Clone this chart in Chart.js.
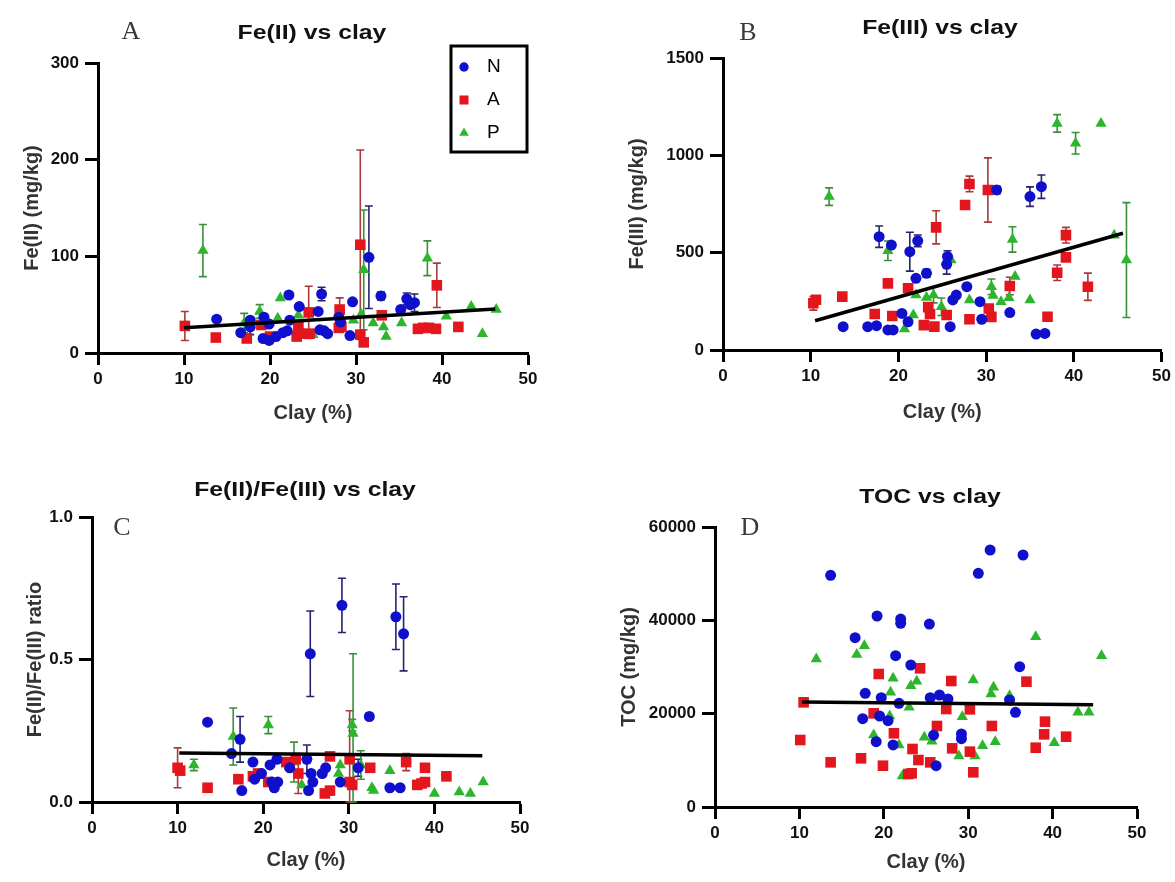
<!DOCTYPE html>
<html>
<head>
<meta charset="utf-8">
<script src="https://cdn.jsdelivr.net/npm/chart.js@4.4.1/dist/chart.umd.min.js"></script>
<style>
  body { margin: 0; background: #fff; }
  .panel { position: absolute; }
</style>
</head>
<body>
<div class="panel" style="left:0;top:0;width:587px;height:440px"><canvas id="chartA"></canvas></div>
<div class="panel" style="left:587px;top:0;width:588px;height:440px"><canvas id="chartB"></canvas></div>
<div class="panel" style="left:0;top:440px;width:587px;height:442px"><canvas id="chartC"></canvas></div>
<div class="panel" style="left:587px;top:440px;width:588px;height:442px"><canvas id="chartD"></canvas></div>
<script>
// rows are [clay %, value, error]
const clayTicks = [0, 10, 20, 30, 40, 50];

const fe2N = [[13.8, 35, 0], [16.6, 21, 0], [17.7, 27, 8], [17.7, 34, 0], [19.3, 37, 0], [19.2, 15, 0],
  [19.9, 13, 0], [20.7, 17, 0], [21.5, 21, 0], [22.0, 23, 0], [19.9, 30, 0], [22.2, 60, 0], [22.3, 34, 0],
  [23.4, 48, 0], [25.6, 43, 0], [26.0, 61, 7], [25.8, 24, 0], [26.3, 23, 0], [26.7, 20, 0], [28.0, 37, 0],
  [28.2, 32, 0], [29.6, 53, 0], [29.3, 18, 0], [31.5, 99, 53], [32.9, 59, 4], [35.2, 45, 0], [35.9, 56, 6],
  [36.3, 50, 0], [36.8, 52, 9]];
const fe2A = [[10.1, 28, 15], [13.7, 16, 0], [17.3, 15, 0], [19.0, 29, 0], [20.0, 17, 0], [23.1, 17, 0],
  [23.3, 27, 0], [23.5, 20, 0], [24.5, 42, 27], [24.6, 20, 0], [28.1, 45, 12], [28.0, 26, 0], [28.3, 27, 0],
  [30.5, 112, 98], [30.5, 19, 0], [30.9, 11, 0], [33.0, 39, 0], [37.2, 25, 3], [37.8, 26, 0], [38.5, 26, 0],
  [39.3, 25, 0], [39.4, 70, 23], [41.9, 27, 0]];
const fe2P = [[12.2, 106, 27], [17.0, 31, 10], [18.8, 43, 7], [20.9, 36, 0], [21.2, 57, 0], [23.3, 39, 0],
  [25.0, 19, 0], [29.7, 34, 0], [30.9, 86, 62], [30.6, 40, 0], [32.0, 31, 0], [33.2, 27, 0], [33.5, 17, 0],
  [35.3, 31, 0], [38.3, 98, 18], [40.5, 38, 0], [43.4, 48, 0], [44.7, 20, 0], [46.3, 45, 0]];
const fe2Fit = [[10, 26], [46.2, 45.5]];
const fe2Ticks = [0, 100, 200, 300];

const fe3N = [[13.7, 120, 0], [16.5, 120, 0], [17.5, 125, 0], [17.8, 582, 55], [18.8, 103, 0], [19.4, 103, 0],
  [19.2, 539, 0], [20.4, 188, 0], [21.1, 145, 0], [21.3, 505, 100], [22.2, 561, 30], [22.0, 368, 0],
  [23.2, 394, 20], [25.6, 480, 30], [25.5, 440, 50], [25.9, 120, 0], [26.2, 257, 0], [26.6, 282, 0],
  [27.8, 325, 0], [29.3, 248, 0], [29.5, 158, 0], [31.2, 822, 20], [32.7, 192, 0], [35.0, 788, 50],
  [36.3, 839, 60], [35.7, 82, 0], [36.7, 85, 0]];
const fe3A = [[10.3, 240, 35], [10.6, 258, 0], [13.6, 274, 0], [17.3, 185, 0], [18.8, 342, 0], [19.3, 175, 0],
  [21.1, 317, 0], [22.9, 128, 0], [23.4, 220, 0], [23.6, 185, 0], [24.1, 120, 0], [24.3, 630, 85],
  [25.5, 180, 0], [27.6, 745, 0], [28.1, 853, 40], [28.1, 158, 0], [30.2, 822, 165], [30.3, 213, 0],
  [30.6, 170, 0], [32.7, 329, 45], [37.0, 171, 0], [38.1, 397, 40], [39.1, 590, 40], [39.1, 476, 0],
  [41.6, 325, 70]];
const fe3P = [[12.1, 788, 45], [18.8, 510, 50], [20.7, 108, 0], [21.7, 180, 0], [22.0, 282, 0], [23.2, 270, 0],
  [24.0, 282, 40], [24.9, 222, 45], [26.0, 462, 0], [28.1, 257, 0], [30.6, 325, 40], [30.8, 280, 0],
  [31.7, 248, 0], [32.6, 268, 0], [33.0, 568, 65], [33.3, 377, 0], [35.0, 257, 0], [38.1, 1164, 45],
  [40.2, 1062, 55], [43.1, 1164, 0], [44.6, 590, 0], [46.0, 462, 295]];
const fe3Fit = [[10.5, 150], [45.6, 600]];
const fe3Ticks = [0, 500, 1000, 1500];

const ratioN = [[13.5, 0.28, 0], [16.3, 0.17, 0], [17.3, 0.22, 0.08], [17.5, 0.04, 0], [18.8, 0.14, 0],
  [19.0, 0.08, 0], [19.8, 0.10, 0], [20.8, 0.13, 0], [21.0, 0.07, 0], [21.3, 0.05, 0], [21.7, 0.07, 0],
  [21.6, 0.15, 0], [23.1, 0.12, 0], [25.1, 0.15, 0.05], [25.3, 0.04, 0], [25.5, 0.52, 0.15], [25.6, 0.10, 0],
  [25.8, 0.07, 0], [26.9, 0.10, 0], [27.3, 0.12, 0], [29.0, 0.07, 0], [29.2, 0.69, 0.095], [31.1, 0.12, 0.03],
  [32.4, 0.30, 0.01], [34.8, 0.05, 0], [35.5, 0.65, 0.115], [36.0, 0.05, 0], [36.4, 0.59, 0.13]];
const ratioA = [[10.0, 0.12, 0.07], [10.3, 0.11, 0], [13.5, 0.05, 0], [17.1, 0.08, 0], [18.8, 0.09, 0],
  [19.4, 0.10, 0], [20.6, 0.07, 0], [22.7, 0.14, 0], [23.1, 0.13, 0], [23.8, 0.15, 0], [24.1, 0.10, 0.07],
  [27.2, 0.03, 0], [27.8, 0.04, 0], [27.8, 0.16, 0], [30.1, 0.15, 0.17], [30.1, 0.07, 0], [30.4, 0.06, 0],
  [32.5, 0.12, 0], [36.7, 0.14, 0.03], [38.0, 0.06, 0], [38.5, 0.065, 0], [38.9, 0.12, 0], [38.9, 0.07, 0],
  [41.4, 0.09, 0]];
const ratioP = [[11.9, 0.13, 0.02], [16.5, 0.23, 0.10], [20.6, 0.27, 0.03], [23.6, 0.14, 0.07], [24.5, 0.06, 0],
  [28.8, 0.10, 0], [29.0, 0.13, 0], [30.4, 0.27, 0.02], [30.5, 0.24, 0.28], [31.4, 0.13, 0.05], [32.7, 0.05, 0],
  [32.9, 0.04, 0], [34.8, 0.11, 0], [40.0, 0.03, 0], [42.9, 0.035, 0], [44.2, 0.03, 0], [45.7, 0.07, 0]];
const ratioFit = [[10.2, 0.172], [45.6, 0.162]];
const ratioTicks = [0, 0.5, 1.0];

const tocN = [[13.7, 49650], [19.2, 40930], [22.0, 40280], [22.0, 39350], [25.4, 39210], [31.2, 50070],
  [32.6, 55070], [36.5, 54000], [16.6, 36280], [21.4, 32420], [23.2, 30430], [17.8, 24360], [19.7, 23430],
  [21.8, 22210], [25.5, 23430], [26.6, 24000], [27.6, 23140], [17.5, 18930], [19.5, 19500], [20.5, 18500],
  [19.1, 14000], [21.1, 13290], [25.9, 15400], [29.2, 15640], [29.2, 14640], [26.2, 8850], [34.9, 22930],
  [36.1, 30070], [35.6, 20290]];
const tocA = [[10.5, 22430], [10.1, 14360], [13.7, 9570], [17.3, 10430], [19.9, 8850], [18.8, 20070],
  [19.4, 28500], [21.2, 15790], [23.4, 12430], [24.1, 10070], [22.9, 7070], [23.3, 7210], [24.3, 29720],
  [25.5, 9570], [26.3, 17360], [27.4, 21000], [28.0, 27000], [28.1, 12570], [30.2, 20930], [30.2, 11860],
  [30.6, 7430], [32.8, 17360], [36.9, 26860], [39.1, 18290], [39.0, 15570], [38.0, 12710], [41.6, 15070]];
const tocP = [[12.0, 31700], [16.8, 32700], [17.7, 34570], [21.1, 27570], [20.8, 24570], [23.2, 26000],
  [23.9, 26930], [23.0, 21360], [20.7, 19500], [18.8, 15430], [21.8, 13290], [22.2, 6640], [24.8, 14930],
  [25.7, 14070], [28.9, 10930], [29.3, 19350], [30.6, 27210], [30.8, 10930], [31.7, 13140], [32.7, 24210],
  [33.0, 25640], [33.2, 14000], [34.9, 23860], [38.0, 36500], [40.2, 13790], [43.0, 20290], [44.3, 20290],
  [45.8, 32430]];
const tocFit = [[10.3, 22500], [44.8, 21900]];
const tocTicks = [0, 20000, 40000, 60000];

const groups = ['N', 'A', 'P'];

const looks = {
  N: { color: '#1010cc', bar: '#25256e', shape: 'circle', r: 5.5 },
  A: { color: '#e3161d', bar: '#a83a3a', shape: 'rect', r: 7.5 },
  P: { color: '#2db52d', bar: '#3a8f3a', shape: 'triangle', r: 6.5 }
};

const tickFont = { family: "'Liberation Sans', Arial, sans-serif", size: 17, weight: 'bold' };
const axisFont = { family: "'Liberation Sans', Arial, sans-serif", size: 20, weight: 'bold' };

function scatterSet(group, rows) {
  const s = looks[group];
  return {
    label: group,
    data: rows.map(r => ({ x: r[0], y: r[1], e: r[2] || 0 })),
    pointStyle: s.shape,
    pointRadius: s.r,
    pointHoverRadius: s.r,
    backgroundColor: s.color,
    borderColor: s.color,
    borderWidth: 0,
    errColor: s.bar
  };
}

function fitSet(rows) {
  return {
    label: 'fit',
    data: rows.map(r => ({ x: r[0], y: r[1] })),
    showLine: true,
    borderColor: '#000',
    borderWidth: 3.5,
    pointRadius: 0,
    order: -1
  };
}

// vertical error bars with caps, drawn under the markers
const errorBars = {
  id: 'errorBars',
  beforeDatasetsDraw(chart) {
    const { ctx, scales: { x, y } } = chart;
    ctx.save();
    ctx.lineWidth = 1.6;
    chart.data.datasets.forEach(ds => {
      if (!ds.errColor) return;
      ctx.strokeStyle = ds.errColor;
      ds.data.forEach(p => {
        if (!p.e) return;
        const px = x.getPixelForValue(p.x);
        const top = y.getPixelForValue(p.y + p.e);
        const bot = y.getPixelForValue(Math.max(p.y - p.e, 0));
        ctx.beginPath();
        ctx.moveTo(px, top); ctx.lineTo(px, bot);
        ctx.moveTo(px - 4, top); ctx.lineTo(px + 4, top);
        ctx.moveTo(px - 4, bot); ctx.lineTo(px + 4, bot);
        ctx.stroke();
      });
    });
    ctx.restore();
  }
};

// panel letter, title and (panel A only) boxed legend
const panelText = {
  id: 'panelText',
  afterDraw(chart, args, opts) {
    const ctx = chart.ctx;
    ctx.save();
    ctx.textBaseline = 'middle';
    ctx.textAlign = 'center';
    ctx.fillStyle = '#3a3a3a';
    ctx.font = "26px 'Liberation Serif', 'DejaVu Serif', serif";
    ctx.fillText(opts.letter, opts.lx, opts.ly);
    ctx.fillStyle = '#111';
    ctx.font = "bold 21px 'Liberation Sans', Arial, sans-serif";
    ctx.translate(opts.tx, opts.ty);
    ctx.scale(1.18, 1);
    ctx.fillText(opts.title, 0, 0);
    ctx.restore();

    if (!opts.legend) return;
    const b = opts.legend;
    ctx.save();
    ctx.lineWidth = 3;
    ctx.strokeStyle = '#000';
    ctx.strokeRect(b.x, b.y, b.w, b.h);
    ctx.font = "19px 'Liberation Sans', Arial, sans-serif";
    ctx.textBaseline = 'middle';
    groups.forEach((g, i) => {
      const ds = chart.data.datasets.find(d => d.label === g);
      const cy = b.y + 21 + i * 33;
      ctx.fillStyle = ds.backgroundColor;
      Chart.helpers.drawPoint(ctx, { pointStyle: ds.pointStyle, radius: ds.pointRadius * 0.85, rotation: 0, borderWidth: 0 }, b.x + 13, cy);
      ctx.fillStyle = '#000';
      ctx.fillText(g, b.x + 36, cy);
    });
    ctx.restore();
  }
};

function makePanel(id, p) {
  const datasets = [fitSet(p.fit)].concat(groups.map((g, i) => scatterSet(g, p.series[i])));
  new Chart(document.getElementById(id), {
    type: 'scatter',
    data: { datasets: datasets },
    plugins: [errorBars, panelText],
    options: {
      responsive: true,
      maintainAspectRatio: false,
      animation: false,
      layout: { padding: p.pad },
      plugins: {
        legend: { display: false },
        tooltip: { enabled: false },
        panelText: p.text
      },
      scales: {
        x: {
          type: 'linear',
          min: 0,
          max: 50,
          afterBuildTicks: s => { s.ticks = clayTicks.map(v => ({ value: v })); },
          ticks: { font: tickFont, color: '#111', padding: 4, maxRotation: 0 },
          grid: { drawOnChartArea: false, tickLength: 12, tickWidth: 3, tickColor: '#000' },
          border: { width: 3, color: '#000' },
          title: { display: true, text: 'Clay (%)', font: axisFont, color: '#333', padding: 0 },
          afterFit: s => { s.height = p.xH; }
        },
        y: {
          type: 'linear',
          min: p.yTicks[0],
          max: p.yTicks[p.yTicks.length - 1],
          afterBuildTicks: s => { s.ticks = p.yTicks.map(v => ({ value: v })); },
          ticks: { font: tickFont, color: '#111', padding: 6, callback: p.fmt },
          grid: { drawOnChartArea: false, tickLength: 13, tickWidth: 3, tickColor: '#000' },
          border: { width: 3, color: '#000' },
          title: { display: true, text: p.yTitle, font: axisFont, color: '#333', padding: 0 },
          afterFit: s => { s.width = p.yW; }
        }
      }
    }
  });
}

const plain = v => String(v);

makePanel('chartA', {
  series: [fe2N, fe2A, fe2P], fit: fe2Fit, yTicks: fe2Ticks, fmt: plain,
  yTitle: 'Fe(II) (mg/kg)',
  pad: { left: 20, top: 63, right: 59, bottom: 15 }, yW: 78, xH: 72,
  text: { letter: 'A', lx: 131, ly: 32, title: 'Fe(II) vs clay', tx: 312, ty: 33,
    legend: { x: 451, y: 46, w: 76, h: 106 } }
});

makePanel('chartB', {
  series: [fe3N, fe3A, fe3P], fit: fe3Fit, yTicks: fe3Ticks, fmt: plain,
  yTitle: 'Fe(III) (mg/kg)',
  pad: { left: 38, top: 58, right: 13, bottom: 16 }, yW: 98, xH: 74,
  text: { letter: 'B', lx: 161, ly: 33, title: 'Fe(III) vs clay', tx: 353, ty: 28 }
});

makePanel('chartC', {
  series: [ratioN, ratioA, ratioP], fit: ratioFit, yTicks: ratioTicks, fmt: v => v.toFixed(1),
  yTitle: 'Fe(II)/Fe(III) ratio',
  pad: { left: 23, top: 77, right: 67, bottom: 10 }, yW: 69, xH: 70,
  text: { letter: 'C', lx: 122, ly: 88, title: 'Fe(II)/Fe(III) vs clay', tx: 305, ty: 50 }
});

makePanel('chartD', {
  series: [tocN, tocA, tocP], fit: tocFit, yTicks: tocTicks, fmt: plain,
  yTitle: 'TOC (mg/kg)',
  pad: { left: 30, top: 87, right: 38, bottom: 8 }, yW: 98, xH: 67,
  text: { letter: 'D', lx: 163, ly: 88, title: 'TOC vs clay', tx: 343, ty: 57 }
});
</script>
</body>
</html>
